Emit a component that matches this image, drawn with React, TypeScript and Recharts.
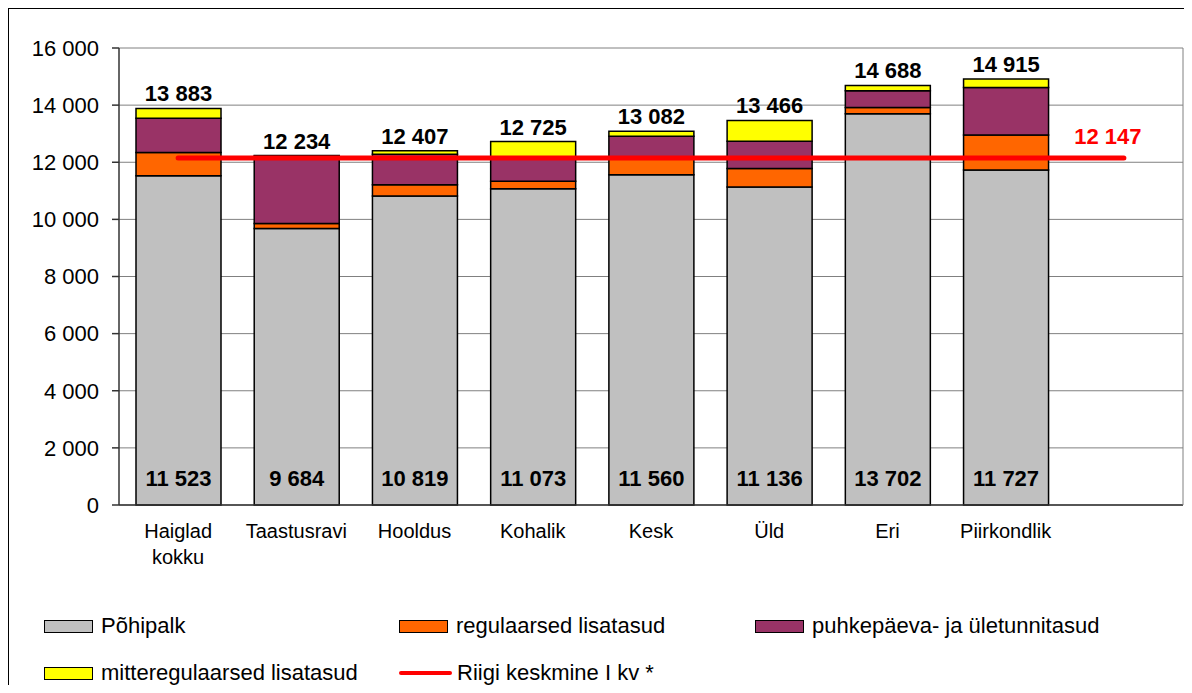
import React from 'react';
import {
  ComposedChart,
  Bar,
  Line,
  XAxis,
  YAxis,
  CartesianGrid,
  LabelList,
  Legend,
} from 'recharts';

const categories = ['Haiglad kokku', 'Taastusravi', 'Hooldus', 'Kohalik', 'Kesk', 'Üld', 'Eri', 'Piirkondlik', ''];
const pohipalk = [11523, 9684, 10819, 11073, 11560, 11136, 13702, 11727, null];
const regulaarsed = [817, 170, 390, 260, 610, 643, 216, 1230, null];
const puhkepaeva = [1204, 2360, 1072, 827, 742, 958, 584, 1660, null];
const mitteregulaarsed = [339, 20, 126, 565, 170, 729, 186, 298, null];
const totals = [13883, 12234, 12407, 12725, 13082, 13466, 14688, 14915, null];
const riigiKeskmine = [12147, 12147, 12147, 12147, 12147, 12147, 12147, 12147, 12147];
const yTicks = [0, 2000, 4000, 6000, 8000, 10000, 12000, 14000, 16000];
const boundaryTicks = [0, 1, 2, 3, 4, 5, 6, 7, 8, 9];

const seriesNames = {
  pohipalk: 'Põhipalk',
  regulaarsed: 'regulaarsed lisatasud',
  puhkepaeva: 'puhkepäeva- ja ületunnitasud',
  mitteregulaarsed: 'mitteregulaarsed lisatasud',
  riigi: 'Riigi keskmine I kv *',
};

const colors = {
  pohipalk: '#C0C0C0',
  regulaarsed: '#FF6600',
  puhkepaeva: '#993366',
  mitteregulaarsed: '#FFFF00',
  riigi: '#FF0000',
};

const data = categories.map((name, i) => ({
  name,
  idx: i + 0.5,
  pohipalk: pohipalk[i],
  regulaarsed: regulaarsed[i],
  puhkepaeva: puhkepaeva[i],
  mitteregulaarsed: mitteregulaarsed[i],
  total: totals[i],
  riigi: riigiKeskmine[i],
}));

const FONT = '"Liberation Sans", Arial, sans-serif';

const fmt = (v: number | null | undefined) =>
  v == null ? '' : String(v).replace(/\B(?=(\d{3})+(?!\d))/g, ' ');

const CategoryTick = (props: any) => {
  const { x, y, payload } = props;
  const words = String(payload.value).split(' ').filter(Boolean);
  return (
    <text x={x} y={y} textAnchor="middle" fontFamily={FONT} fontSize={20} fill="#000">
      {words.map((w, i) => (
        <tspan key={i} x={x} dy={i === 0 ? 33 : 26}>
          {w}
        </tspan>
      ))}
    </text>
  );
};

const TotalLabel = (props: any) => {
  const { x, y, width, index } = props;
  const t = totals[index];
  if (t == null) return null;
  return (
    <text x={x + width / 2} y={y - 7} textAnchor="middle" fontFamily={FONT} fontSize={22} fontWeight="bold" fill="#000">
      {fmt(t)}
    </text>
  );
};

const BaseLabel = (props: any) => {
  const { x, y, width, height, value } = props;
  if (value == null) return null;
  return (
    <text x={x + width / 2} y={y + height - 19} textAnchor="middle" fontFamily={FONT} fontSize={22} fontWeight="bold" fill="#000">
      {fmt(value)}
    </text>
  );
};

const LineLabel = (props: any) => {
  const { x, y, index, value } = props;
  if (index !== riigiKeskmine.length - 1) return null;
  return (
    <text x={x - 16} y={y - 14} textAnchor="middle" fontFamily={FONT} fontSize={22} fontWeight="bold" fill={colors.riigi}>
      {fmt(value)}
    </text>
  );
};

const legendItems = [
  { key: 'pohipalk', left: 35, row: 0, type: 'rect' },
  { key: 'regulaarsed', left: 390, row: 0, type: 'rect' },
  { key: 'puhkepaeva', left: 746, row: 0, type: 'rect' },
  { key: 'mitteregulaarsed', left: 35, row: 1, type: 'rect' },
  { key: 'riigi', left: 390, row: 1, type: 'line' },
];

const renderLegend = () => (
  <div style={{ position: 'relative', width: 1175, height: 76, fontFamily: FONT, fontSize: 22, color: '#000' }}>
    {legendItems.map((it) => (
      <div
        key={it.key}
        style={{
          position: 'absolute',
          left: it.left,
          top: it.row === 0 ? 4 : 51,
          height: 26,
          display: 'flex',
          alignItems: 'center',
          whiteSpace: 'nowrap',
        }}
      >
        {it.type === 'rect' ? (
          <div
            style={{
              width: 47,
              height: 11,
              background: (colors as any)[it.key],
              border: '1.5px solid #000',
              marginRight: 8,
            }}
          />
        ) : (
          <div
            style={{
              width: 53,
              height: 4,
              borderRadius: 2,
              background: colors.riigi,
              marginRight: 5,
            }}
          />
        )}
        <span>{(seriesNames as any)[it.key]}</span>
      </div>
    ))}
  </div>
);

export default function App() {
  return (
    <div
      style={{
        width: 1175,
        height: 676,
        borderLeft: '1px solid #000',
        borderTop: '1px solid #000',
        overflow: 'hidden',
        background: '#fff',
      }}
    >
      <ComposedChart
        width={1175}
        height={676}
        data={data}
        margin={{ top: 39, right: 0, bottom: 178, left: 0 }}
        barSize={85}
      >
        <CartesianGrid vertical={false} stroke="#808080" strokeWidth={1} />
        <XAxis
          dataKey="name"
          height={1}
          tickLine={false}
          tickSize={0}
          tickMargin={0}
          axisLine={{ stroke: '#333', strokeWidth: 1.5 }}
          tick={<CategoryTick />}
          interval={0}
        />
        <XAxis
          xAxisId="bounds"
          dataKey="idx"
          type="number"
          domain={[0, 9]}
          ticks={boundaryTicks}
          interval={0}
          allowDataOverflow
          height={1}
          axisLine={false}
          tick={false}
          tickSize={6}
          tickLine={{ stroke: '#333', strokeWidth: 1.5 }}
        />
        <YAxis
          width={110}
          domain={[0, 16000]}
          ticks={yTicks}
          interval={0}
          tickFormatter={fmt}
          tickSize={7}
          tickMargin={13}
          axisLine={{ stroke: '#333', strokeWidth: 1.5 }}
          tickLine={{ stroke: '#333', strokeWidth: 1.5 }}
          tick={{ fontFamily: FONT, fontSize: 22, fill: '#000' }}
        />
        <YAxis
          yAxisId="right"
          orientation="right"
          width={1}
          domain={[0, 16000]}
          tick={false}
          tickLine={false}
          axisLine={{ stroke: '#808080', strokeWidth: 1 }}
        />
        <Bar dataKey="pohipalk" name={seriesNames.pohipalk} stackId="a" fill={colors.pohipalk} stroke="#000" strokeWidth={1.5} isAnimationActive={false}>
          <LabelList dataKey="pohipalk" content={<BaseLabel />} />
        </Bar>
        <Bar dataKey="regulaarsed" name={seriesNames.regulaarsed} stackId="a" fill={colors.regulaarsed} stroke="#000" strokeWidth={1.5} isAnimationActive={false} />
        <Bar dataKey="puhkepaeva" name={seriesNames.puhkepaeva} stackId="a" fill={colors.puhkepaeva} stroke="#000" strokeWidth={1.5} isAnimationActive={false} />
        <Bar dataKey="mitteregulaarsed" name={seriesNames.mitteregulaarsed} stackId="a" fill={colors.mitteregulaarsed} stroke="#000" strokeWidth={1.5} isAnimationActive={false}>
          <LabelList dataKey="total" content={<TotalLabel />} />
        </Bar>
        <Line
          dataKey="riigi"
          name={seriesNames.riigi}
          stroke={colors.riigi}
          strokeWidth={5}
          strokeLinecap="round"
          dot={false}
          activeDot={false}
          isAnimationActive={false}
        >
          <LabelList dataKey="riigi" content={<LineLabel />} />
        </Line>
        <Legend
          layout="horizontal"
          verticalAlign="middle"
          align="center"
          content={renderLegend}
          wrapperStyle={{ position: 'absolute', left: 0, top: 600, width: 1175, height: 76 }}
        />
      </ComposedChart>
    </div>
  );
}
